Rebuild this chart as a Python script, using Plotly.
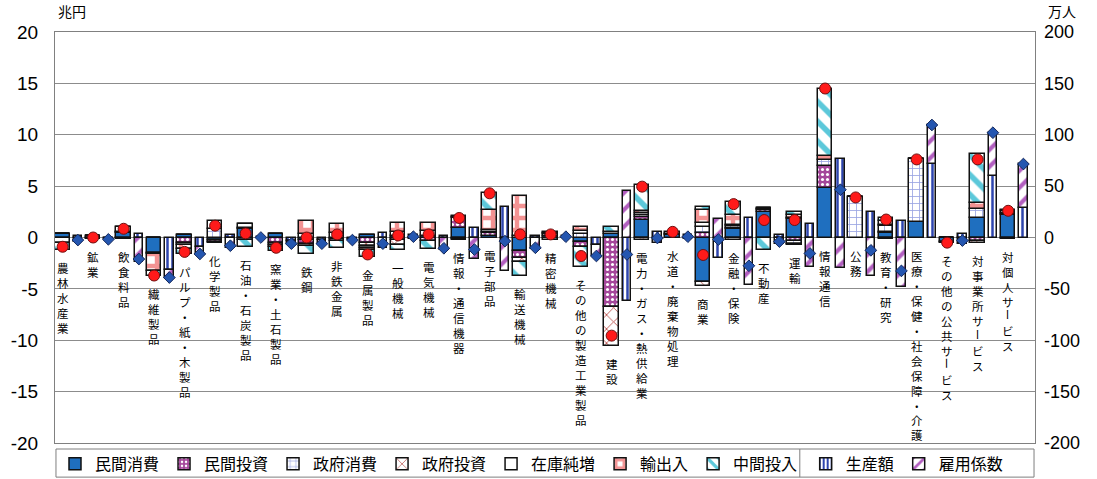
import plotly.graph_objects as go

# 産業部門
categories = [
    "農林水産業", "鉱業", "飲食料品", "繊維製品", "パルプ・紙・木製品", "化学製品",
    "石油・石炭製品", "窯業・土石製品", "鉄鋼", "非鉄金属", "金属製品", "一般機械",
    "電気機械", "情報・通信機器", "電子部品", "輸送機械", "精密機械",
    "その他の製造工業製品", "建設", "電力・ガス・熱供給業", "水道・廃棄物処理",
    "商業", "金融・保険", "不動産", "運輸", "情報通信", "公務", "教育・研究",
    "医療・保健・社会保障・介護", "その他の公共サービス", "対事業所サービス",
    "対個人サービス",
]

# 需要項目別の寄与（兆円）
private_consumption = [0.3, 0.0, 0.4, -1.5, 0.2, -0.25, 0.8, 0.3, -0.2, -0.1, 0.25, 0.1,
                       0.15, 0.9, 0.1, -1.35, 0.1, -0.4, 0.3, 1.75, 0.2, -4.3, 0.85, 2.5,
                       1.8, 4.8, 0.0, 0.4, 1.5, -0.4, 1.85, 2.2]
private_investment = [0.0, 0.1, 0.05, -0.1, -0.5, -0.15, 0.1, -0.5, -0.4, -0.2, -0.5, -0.2,
                      -0.3, 1.0, 0.3, -0.6, 0.2, -0.5, -6.8, 0.2, 0.0, 0.4, 0.1, 0.2,
                      -0.3, 2.2, 0.0, 0.1, 0.0, 0.0, -0.3, 0.1]
government_consumption = [0.0, 0.0, 0.05, 0.0, 0.0, 0.8, -0.2, 0.0, 0.0, 0.0, 0.0, 0.0,
                          0.0, 0.1, 0.1, 0.0, 0.0, 0.3, 0.0, 0.2, 0.1, 0.6, 0.15, 0.1,
                          -0.35, 0.5, 3.9, 0.6, 6.1, 0.0, 0.9, 0.1]
government_investment = [0.0, 0.0, 0.0, 0.0, 0.0, 0.0, 0.0, -0.2, -0.2, 0.0, -0.3, -0.5,
                         0.0, 0.0, 0.0, -0.4, 0.0, 0.0, -3.8, -0.2, 0.0, -0.4, -0.2, 0.0,
                         -0.1, 0.0, 0.0, -0.1, 0.0, 0.0, -0.25, -0.1]
inventory_change = [-0.5, 0.0, 0.5, 0.0, -0.2, 0.0, 0.4, 0.0, 0.3, 0.4, -0.2, 0.4,
                    0.5, 0.1, 0.2, 0.1, 0.1, 0.3, 0.2, 0.2, 0.05, 0.4, 0.1, 0.1,
                    0.1, 0.0, 0.0, 0.1, 0.0, 0.0, 0.0, 0.0]
net_exports = [0.0, 0.0, -0.15, -1.7, -0.4, 0.85, 0.0, -0.2, 1.3, 0.9, -0.2, 0.9,
               0.8, -0.1, 2.0, 3.9, 0.1, 0.45, 0.0, 0.2, 0.0, 1.3, 1.0, 0.0,
               0.3, 0.4, 0.0, 0.4, 0.0, 0.0, 0.6, 0.2]
intermediate_input = [-0.7, -0.1, 0.0, -0.4, -0.5, -0.1, -0.7, -0.4, -0.8, -0.7, -0.7, -0.5,
                      -0.85, -0.1, 1.6, -1.35, -0.2, -1.95, 0.55, 2.6, 0.2, 0.3, 1.25, -1.2,
                      0.25, 6.6, 0.0, 0.25, 0.0, -0.1, 4.8, 0.1]

# 就業者数の変化要因（万人）
output_effect = [1.5, -0.5, 3.0, -32.0, -9.0, 2.0, 0.5, -3.5, -2.0, -1.0, 4.0, 2.0,
                 1.5, 9.6, 29.5, 1.0, 1.5, -7.0, -62.0, 5.0, 2.0, -20.0, 19.0, 2.0,
                 13.5, 76.0, 25.0, 16.0, 71.5, 3.0, 59.5, 28.5]
employment_coef = [-4.0, -1.3, -24.0, -7.0, -7.0, -10.0, -0.5, -2.5, -4.0, -1.5, -10.0, -1.2,
                   -12.0, -21.3, -33.0, -11.0, -0.7, -11.0, 45.5, -5.5, -1.2, 18.0, -46.5, -6.0,
                   -29.0, -29.5, -37.5, -48.5, 38.0, -6.0, 42.5, 43.0]

left_ticks = [-20, -15, -10, -5, 0, 5, 10, 15, 20]
right_ticks = [-200, -150, -100, -50, 0, 50, 100, 150, 200]

JP = "Noto Sans CJK JP"
NUM = "Liberation Sans, Arial"
OUTLINE = dict(color="#111111", width=1.5)

DEMAND_SHIFT, DEMAND_W = -0.25, 0.47
PROD_SHIFT, PROD_W = 0.25, 0.28

n = len(categories)
idx = list(range(n))


def pat(shape, fg, bg, size, solidity):
    return dict(shape=shape, fgcolor=fg, bgcolor=bg, size=size, solidity=solidity,
                fillmode="replace")


demand_series = [
    ("民間消費", private_consumption, dict(color="#1f6fbf")),
    ("民間投資", private_investment,
     dict(color="#a4479a", pattern=pat(".", "#ffffff", "#a4479a", 5, 0.3))),
    ("政府消費", government_consumption,
     dict(color="#ffffff", pattern=pat("+", "#98a3e2", "#ffffff", 7, 0.22))),
    ("政府投資", government_investment,
     dict(color="#ffffff", pattern=pat("x", "#b5443f", "#ffffff", 10, 0.16))),
    ("在庫純増", inventory_change, dict(color="#ffffff")),
    ("輸出入", net_exports,
     dict(color="#ffffff", pattern=pat("+", "#f39393", "#ffffff", 12, 0.6))),
    ("中間投入", intermediate_input,
     dict(color="#ffffff", pattern=pat("\\", "#5cc8da", "#ffffff", 14, 0.4))),
]

production_series = [
    ("生産額", output_effect,
     dict(color="#ffffff", pattern=pat("|", "#2e45ae", "#ffffff", 5, 0.5))),
    ("雇用係数", employment_coef,
     dict(color="#ffffff", pattern=pat("/", "#b25fc0", "#ffffff", 12, 0.35))),
]

fig = go.Figure()

for name, vals, mk in demand_series:
    fig.add_trace(go.Bar(
        x=idx, y=vals, name=name, yaxis="y", legend="legend",
        offset=DEMAND_SHIFT - DEMAND_W / 2, width=DEMAND_W,
        marker=dict(**mk, line=OUTLINE), hoverinfo="skip",
    ))

for name, vals, mk in production_series:
    fig.add_trace(go.Bar(
        x=idx, y=vals, name=name, yaxis="y2", legend="legend2",
        offset=PROD_SHIFT - PROD_W / 2, width=PROD_W,
        marker=dict(**mk, line=OUTLINE), hoverinfo="skip",
    ))

# 合計値のマーカー
demand_total = [sum(s[1][i] for s in demand_series) for i in idx]
prod_total = [output_effect[i] + employment_coef[i] for i in idx]

fig.add_trace(go.Scatter(
    x=[i + DEMAND_SHIFT for i in idx], y=demand_total, yaxis="y", mode="markers",
    marker=dict(symbol="circle", size=11, color="#ff1a1a",
                line=dict(color="#6e1010", width=1)),
    showlegend=False, hoverinfo="skip",
))
fig.add_trace(go.Scatter(
    x=[i + PROD_SHIFT for i in idx], y=prod_total, yaxis="y2", mode="markers",
    marker=dict(symbol="diamond", size=9, color="#2456b0",
                line=dict(color="#14285c", width=1)),
    showlegend=False, hoverinfo="skip",
))

# 縦書きの部門名（棒の下端から下へ。長音記号は90度回転）
LABEL_SIZE = 11.5
LINE = 1.3 * LABEL_SIZE
GAP = 9
label_font = dict(family=JP, size=LABEL_SIZE, color="#000000")

annotations = []
for i, label in enumerate(categories):
    bottom = sum(min(0.0, s[1][i]) for s in demand_series)
    slot = 0
    pieces = label.split("ー")
    for j, piece in enumerate(pieces):
        if piece:
            annotations.append(dict(
                x=i + DEMAND_SHIFT, y=bottom, xref="x", yref="y",
                text="<br>".join(piece), showarrow=False,
                xanchor="center", yanchor="top", align="center",
                yshift=-(GAP + slot * LINE), borderpad=0, font=label_font,
            ))
            slot += len(piece)
        if j < len(pieces) - 1:
            annotations.append(dict(
                x=i + DEMAND_SHIFT, y=bottom, xref="x", yref="y",
                text="ー", textangle=90, showarrow=False,
                xanchor="center", yanchor="middle",
                yshift=-(GAP + slot * LINE + LINE / 2), borderpad=0, font=label_font,
            ))
            slot += 1

# 軸の単位
annotations.append(dict(x=0.002, y=1.05, xref="paper", yref="paper", text="兆円",
                        showarrow=False, xanchor="left", yanchor="middle", borderpad=0,
                        font=dict(family=JP, size=14, color="#000000")))
annotations.append(dict(x=1.012, y=1.05, xref="paper", yref="paper", text="万人",
                        showarrow=False, xanchor="left", yanchor="middle", borderpad=0,
                        font=dict(family=JP, size=14, color="#000000")))

# 凡例の枠と区切り線
shapes = [
    dict(type="rect", xref="paper", yref="paper", x0=0.001, x1=0.999,
         y0=-0.0146, y1=-0.083, line=dict(color="#7f7f7f", width=1)),
    dict(type="line", xref="paper", yref="paper", x0=0.76, x1=0.76,
         y0=-0.0146, y1=-0.083, line=dict(color="#7f7f7f", width=1)),
]

axis_line = "#808080"
fig.update_layout(
    width=1097, height=479,
    margin=dict(l=55, r=62, t=32, b=36, autoexpand=False),
    paper_bgcolor="white", plot_bgcolor="white",
    barmode="relative", bargap=0,
    annotations=annotations, shapes=shapes,
    xaxis=dict(range=[-0.5, 31.63], showticklabels=False, showgrid=False,
               zeroline=False, showline=True, mirror=True, linecolor=axis_line,
               ticks=""),
    yaxis=dict(range=[-20, 20], tickvals=left_ticks,
               ticktext=[str(v) for v in left_ticks],
               showgrid=True, gridcolor="#8c8c8c", gridwidth=1, zeroline=False,
               showline=True, mirror=True, linecolor=axis_line, ticks="",
               ticklabelstandoff=12,
               tickfont=dict(family=NUM, size=19, color="#000000")),
    yaxis2=dict(range=[-200, 200], tickvals=right_ticks,
                ticktext=[str(v) for v in right_ticks],
                overlaying="y", side="right", showgrid=False, zeroline=False,
                showline=False, ticks="", ticklabelstandoff=8,
                tickfont=dict(family=NUM, size=18, color="#000000")),
    legend=dict(orientation="h", x=0.0, xanchor="left", y=-0.051, yanchor="middle",
                traceorder="normal", bgcolor="rgba(0,0,0,0)",
                font=dict(family=JP, size=16, color="#000000")),
    legend2=dict(orientation="h", x=0.766, xanchor="left", y=-0.051, yanchor="middle",
                 traceorder="normal", bgcolor="rgba(0,0,0,0)",
                 font=dict(family=JP, size=16, color="#000000")),
    showlegend=True,
)

fig.write_html("out.html")
